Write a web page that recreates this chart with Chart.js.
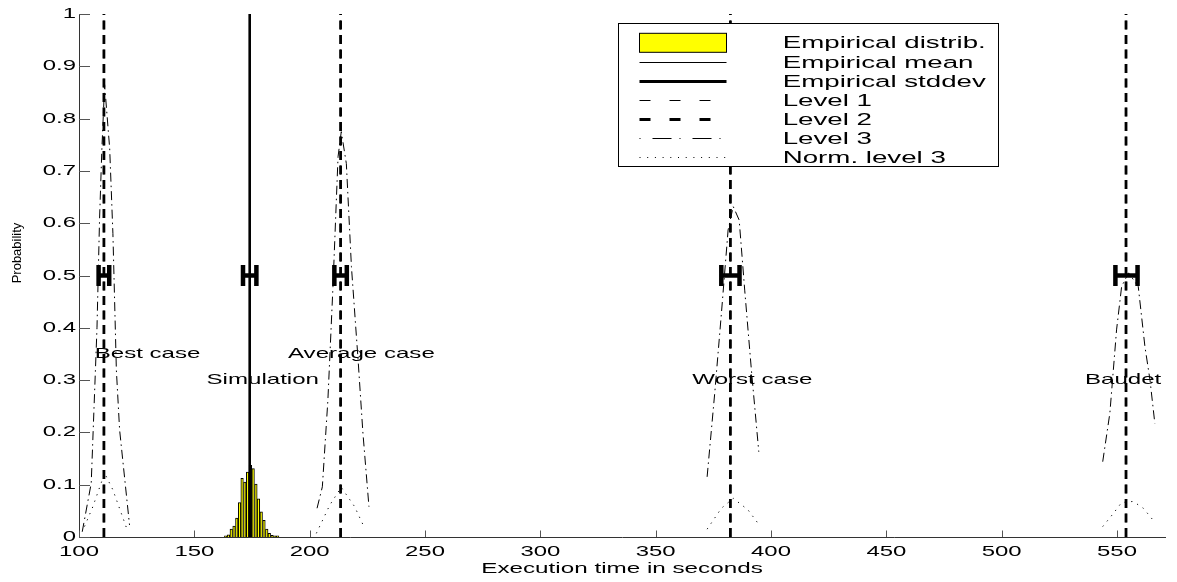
<!DOCTYPE html>
<html>
<head>
<meta charset="utf-8">
<title>Execution time distribution</title>
<script src="https://cdn.jsdelivr.net/npm/chart.js@4.4.1/dist/chart.umd.min.js"></script>
<style>
  html, body { margin: 0; padding: 0; background: #fff; overflow: hidden; }
  #wrap { width: 1177px; height: 582px; }
</style>
</head>
<body>
<div id="wrap"><canvas id="timing-chart"></canvas></div>
<script>
// Histogram of the simulated runs (bin centre in seconds, probability)
const histBins = [163.6, 164.8, 166.0, 167.2, 168.4, 169.6, 170.7, 171.9, 173.1, 174.3,
                  175.5, 176.7, 177.8, 179.0, 180.2, 181.4, 182.5, 183.7, 184.9, 186.1];
const histProb = [0.002, 0.004, 0.015, 0.021, 0.036, 0.066, 0.112, 0.105, 0.124, 0.137,
                  0.131, 0.101, 0.073, 0.048, 0.032, 0.015, 0.007, 0.003, 0.002, 0.002];

const simMean = 174.0;

// Each case: centre, spread (drawn as H bars at p = 0.5) and its label
const caseNames = ['Best case', 'Simulation', 'Average case', 'Worst case', 'Baudet'];
const caseCentre = [110.8, 174.0, 213.4, 382.4, 554.1];
const caseSpread = [2.3, 2.9, 2.7, 3.95, 4.8];
const caseLabelX = [106.8, 155.3, 190.6, 365.9, 536.1];
const caseLabelY = [0.35, 0.30, 0.35, 0.30, 0.30];

// Level 1 / level 2 estimates (vertical markers)
const levelTimes = [110.8, 213.4, 382.4, 553.9];

// Level 3 distributions, [seconds, probability]
const level3Best = [[101.4, 0.010], [105.3, 0.103], [107.8, 0.400], [108.9, 0.606], [109.9, 0.740],
                    [111.1, 0.865], [113.3, 0.743], [114.7, 0.580], [116.2, 0.319], [117.6, 0.205], [121.9, 0.023]];
const level3Avg = [[203.2, 0.055], [205.5, 0.096], [207.9, 0.262], [210.1, 0.479], [212.3, 0.727],
                   [213.7, 0.775], [215.9, 0.714], [218.1, 0.517], [221.0, 0.338], [223.1, 0.198], [225.7, 0.058]];
const level3Worst = [[372.3, 0.115], [375.6, 0.275], [378.5, 0.428], [381.4, 0.587], [383.6, 0.632],
                     [386.2, 0.606], [388.6, 0.472], [391.5, 0.319], [394.7, 0.163]];
const level3Baudet = [[543.8, 0.144], [546.9, 0.237], [549.8, 0.396], [552.0, 0.479], [555.0, 0.505],
                      [559.2, 0.479], [562.1, 0.364], [564.3, 0.300], [566.4, 0.217]];

// Normalised level 3
const normBest = [[102.4, 0.020], [106.0, 0.058], [111.1, 0.122], [114.7, 0.090], [121.2, 0.010]];
const normAvg = [[202.9, 0.007], [208.7, 0.061], [213.7, 0.095], [219.5, 0.058], [223.8, 0.017]];
const normWorst = [[372.3, 0.015], [378.5, 0.055], [383.6, 0.074], [390.0, 0.052], [394.4, 0.026]];
const normBaudet = [[543.8, 0.020], [548.4, 0.045], [552.0, 0.066], [557.0, 0.068], [561.4, 0.055], [565.5, 0.033]];

const xTicks = [100, 150, 200, 250, 300, 350, 400, 450, 500, 550];
const yTicks = [0, 0.1, 0.2, 0.3, 0.4, 0.5, 0.6, 0.7, 0.8, 0.9, 1];
const yTickLabels = ['0', '0.1', '0.2', '0.3', '0.4', '0.5', '0.6', '0.7', '0.8', '0.9', '1'];

const legendLabels = ['Empirical distrib.', 'Empirical mean', 'Empirical stddev',
                      'Level 1', 'Level 2', 'Level 3', 'Norm. level 3'];

const FONT = '"Liberation Sans", Arial, Helvetica, sans-serif';
const TEXT_STRETCH = 1.65; // wide lettering, as in the old matlab export

const pts = arr => arr.map(([x, y]) => ({ x, y }));

function verticals(xs) {
  const out = [];
  xs.forEach(x => out.push({ x, y: 0 }, { x, y: 1 }, { x, y: null }));
  return out;
}

function errorBars(centres, spreads, y, cap) {
  const out = [];
  centres.forEach((c, i) => {
    const lo = c - spreads[i], hi = c + spreads[i];
    out.push({ x: lo, y: y - cap }, { x: lo, y: y + cap }, { x: lo, y: null },
             { x: lo, y }, { x: hi, y }, { x: hi, y: null },
             { x: hi, y: y - cap }, { x: hi, y: y + cap }, { x: hi, y: null });
  });
  return out;
}

function wideText(ctx, text, x, y, size, align, baseline) {
  ctx.save();
  ctx.translate(x, y);
  ctx.scale(TEXT_STRETCH, 1);
  ctx.font = size + 'px ' + FONT;
  ctx.textAlign = align;
  ctx.textBaseline = baseline;
  ctx.fillStyle = '#000';
  ctx.fillText(text, 0, 0);
  ctx.restore();
}

const dashDot = [9, 4, 1.5, 4];
const dotted = [1.2, 5.5];

function curve(label, data, dash) {
  return { type: 'line', label, data: pts(data), borderColor: '#000', borderWidth: 1,
           borderDash: dash, pointRadius: 0, fill: false };
}

// inner ticks, labels, annotations and the boxed legend
const matlabAxes = {
  id: 'matlabAxes',
  afterDatasetsDraw(chart) {
    const { ctx, chartArea: area, scales: { x, y } } = chart;
    ctx.save();
    ctx.strokeStyle = '#555';
    ctx.lineWidth = 1;
    ctx.beginPath();
    xTicks.forEach(v => {
      const px = Math.round(x.getPixelForValue(v)) + 0.5;
      ctx.moveTo(px, area.bottom);
      ctx.lineTo(px, area.bottom - 6.5);
    });
    yTicks.forEach(v => {
      const py = Math.round(y.getPixelForValue(v)) + 0.5;
      ctx.moveTo(area.left, py);
      ctx.lineTo(area.left + 11, py);
    });
    ctx.stroke();

    xTicks.forEach(v => wideText(ctx, String(v), x.getPixelForValue(v), area.bottom + 19, 14.5, 'center', 'alphabetic'));
    yTicks.forEach((v, i) => wideText(ctx, yTickLabels[i], area.left - 3, y.getPixelForValue(v), 14.5, 'right', 'middle'));

    wideText(ctx, 'Execution time in seconds', (area.left + area.right) / 2, 573, 14.7, 'center', 'alphabetic');

    ctx.save();
    ctx.translate(17, 253);
    ctx.rotate(-Math.PI / 2);
    ctx.font = '13px ' + FONT;
    ctx.textAlign = 'center';
    ctx.textBaseline = 'middle';
    ctx.fillStyle = '#000';
    ctx.fillText('Probability', 0, 0);
    ctx.restore();

    caseNames.forEach((name, i) => {
      wideText(ctx, name, x.getPixelForValue(caseLabelX[i]), y.getPixelForValue(caseLabelY[i]), 14.6, 'left', 'middle');
    });

    // legend
    const box = { left: 618, top: 23, width: 380, height: 143 };
    ctx.fillStyle = '#fff';
    ctx.fillRect(box.left, box.top, box.width, box.height);
    ctx.strokeStyle = '#000';
    ctx.lineWidth = 1;
    ctx.setLineDash([]);
    ctx.strokeRect(box.left + 0.5, box.top + 0.5, box.width, box.height);

    const styles = [
      null,
      { width: 1.2, dash: [] },
      { width: 3, dash: [] },
      { width: 1.2, dash: [11, 19] },
      { width: 2.8, dash: [11, 19] },
      { width: 1.2, dash: [1, 12, 19, 8] },
      { width: 1.2, dash: [1, 6.7] }
    ];
    const x0 = 639.5, x1 = 726.5;
    legendLabels.forEach((label, i) => {
      const ry = 42.8 + i * 19.08;
      if (i === 0) {
        ctx.fillStyle = '#ffff00';
        ctx.fillRect(x0, ry - 9.5, x1 - x0, 19);
        ctx.strokeStyle = '#000';
        ctx.lineWidth = 1;
        ctx.setLineDash([]);
        ctx.strokeRect(x0, ry - 9.5, x1 - x0, 19);
      } else {
        const s = styles[i];
        ctx.strokeStyle = '#000';
        ctx.lineWidth = s.width;
        ctx.setLineDash(s.dash);
        ctx.beginPath();
        ctx.moveTo(x0, Math.round(ry) + 0.5);
        ctx.lineTo(x1, Math.round(ry) + 0.5);
        ctx.stroke();
      }
      wideText(ctx, label, 782.7, ry + 1, 16.8, 'left', 'middle');
    });
    ctx.restore();
  }
};

new Chart(document.getElementById('timing-chart'), {
  type: 'line',
  data: {
    datasets: [
      { type: 'line', label: 'Empirical stddev', data: errorBars(caseCentre, caseSpread, 0.5, 0.02),
        borderColor: '#000', borderWidth: 4.5, pointRadius: 0, fill: false },
      { type: 'line', label: 'Empirical mean', data: verticals([simMean]),
        borderColor: '#000', borderWidth: 2.6, pointRadius: 0, fill: false },
      { type: 'line', label: 'Level 2', data: verticals(levelTimes),
        borderColor: '#000', borderWidth: 2.8, borderDash: [9, 5.5], pointRadius: 0, fill: false },
      { type: 'line', label: 'Level 1', data: verticals(levelTimes),
        borderColor: '#000', borderWidth: 1, borderDash: [9, 5.5], pointRadius: 0, fill: false },
      { type: 'bar', label: 'Empirical distrib.', data: histBins.map((b, i) => ({ x: b, y: histProb[i] })),
        backgroundColor: '#ffff00', borderColor: '#000', borderWidth: 1,
        barPercentage: 1, categoryPercentage: 1, grouped: false },
      curve('Level 3', level3Best, dashDot),
      curve('Level 3', level3Avg, dashDot),
      curve('Level 3', level3Worst, dashDot),
      curve('Level 3', level3Baudet, dashDot),
      curve('Norm. level 3', normBest, dotted),
      curve('Norm. level 3', normAvg, dotted),
      curve('Norm. level 3', normWorst, dotted),
      curve('Norm. level 3', normBaudet, dotted)
    ]
  },
  options: {
    responsive: true,
    maintainAspectRatio: false,
    animation: false,
    events: [],
    layout: { autoPadding: false, padding: { left: 79, top: 14, right: 12, bottom: 45 } },
    elements: { line: { tension: 0, borderCapStyle: 'butt' } },
    plugins: { legend: { display: false }, tooltip: { enabled: false } },
    scales: {
      x: {
        type: 'linear', min: 100, max: 570.8, offset: false,
        grid: { display: false, drawTicks: false, offset: false },
        border: { display: true, color: '#333', width: 1 },
        ticks: { display: false }
      },
      y: {
        type: 'linear', min: 0, max: 1,
        grid: { display: false, drawTicks: false },
        border: { display: true, color: '#333', width: 1 },
        ticks: { display: false }
      }
    }
  },
  plugins: [matlabAxes]
});
</script>
</body>
</html>
